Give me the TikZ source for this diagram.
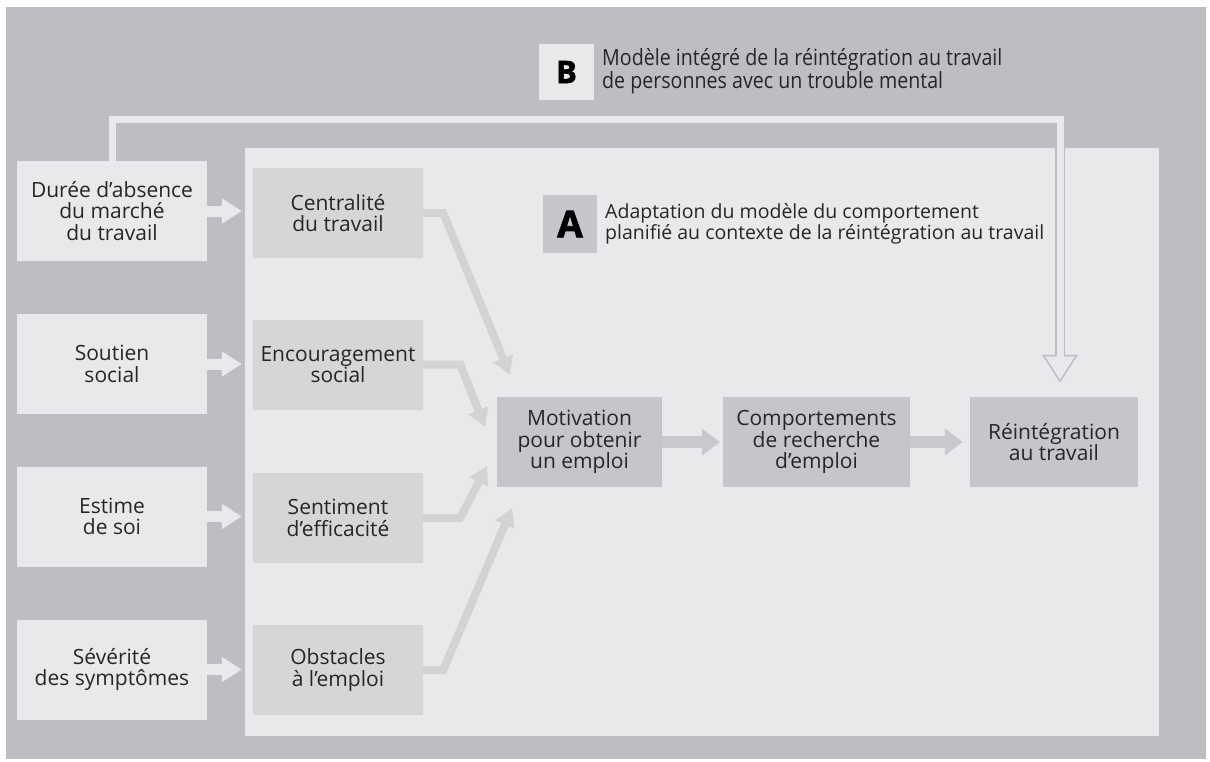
\documentclass[tikz,border=0pt]{standalone}
\usepackage{fontspec}
\setmainfont{Open Sans}
\newfontfamily\narrowfont[FakeStretch=0.88]{Open Sans}
\newfontfamily\tagfont[BoldFeatures={FakeBold=2}]{Open Sans}
\usepackage{tikz}
\usetikzlibrary{arrows.meta,positioning}
\definecolor{outergray}{HTML}{BEBDC2}
\definecolor{panellight}{HTML}{E9E9EB}
\definecolor{midgray}{HTML}{D6D6D9}
\definecolor{chaingray}{HTML}{C6C6CA}
\definecolor{arrowgray}{HTML}{D3D3D6}
\definecolor{chainarrow}{HTML}{C9C9CD}
\definecolor{inktext}{HTML}{262628}

\begin{document}
\begin{tikzpicture}
		[x=1pt, y=-1pt, inner sep=0pt, text=inktext,
		boxfont/.style	= {font=\fontsize{21}{21.7}\selectfont},
		exog/.style	= {rectangle, fill=panellight, minimum width=190pt, minimum height=100pt, align=center, boxfont},
		belief/.style	= {rectangle, fill=midgray, minimum width=170pt, minimum height=90pt, align=center, boxfont},
		stage/.style	= {rectangle, fill=chaingray, minimum height=90pt, align=center, boxfont},
		tag/.style	= {rectangle, minimum width=54pt, minimum height=58pt, text=black},
		caption/.style	= {anchor=west, align=left},
		feed/.style	= {-{Triangle[width=24pt,length=20pt]}, line width=11pt, draw=panellight, shorten >=11pt},
		paths/.style	= {-{Triangle[width=20pt,length=18pt]}, line width=8pt, draw=arrowgray},
		chain/.style	= {-{Triangle[width=26pt,length=18pt]}, line width=12pt, draw=chainarrow},
		loopedge/.style	= {-{Triangle[width=34pt,length=28pt]}, line width=10pt, draw=outergray, shorten >=14pt},
		loopfill/.style	= {-{Triangle[width=28pt,length=23.5pt]}, line width=7pt, draw=panellight, shorten >=16.9pt}]
		
		\useasboundingbox (0,0) rectangle (1210,761);
		\fill[outergray] (6,7) rectangle (1206,759);
		\fill[panellight] (245,148) rectangle (1159,736);
		
		\node at (112,211)	[exog]	(dur)	{Durée d’absence\\du marché\\du travail};
		\node at (112,364)	[exog]	(sou)	{Soutien\\social};
		\node at (112,516.5)	[exog]	(est)	{Estime\\de soi};
		\node at (112,669.5)	[exog]	(sev)	{Sévérité\\des symptômes};
		
		\node at (338,213)	[belief]	(cen)	{Centralité\\du travail};
		\node at (338,364.5)	[belief]	(enc)	{Encouragement\\social};
		\node at (338,518)	[belief]	(sen)	{Sentiment\\d’efficacité};
		\node at (338,670)	[belief]	(obs)	{Obstacles\\à l’emploi};
		
		\node at (579.5,442)	[stage, minimum width=165pt]	(mot)	{Motivation\\pour obtenir\\un emploi};
		\node at (816.5,442)	[stage, minimum width=187pt]	(com)	{Comportements\\de recherche\\d’emploi};
		\node at (1054,442)	[stage, minimum width=168pt]	(rei)	{Réintégration\\au travail};
		
		\node at (570,224)	[tag, fill=chaingray, font=\tagfont\fontsize{37}{37}\selectfont\bfseries]	(taga)	{A};
		\node at (566.5,72)	[tag, fill=panellight, minimum width=55pt, minimum height=56pt, font=\tagfont\fontsize{31}{31}\selectfont\bfseries]	(tagb)	{B};
		\node at (605,224)	[caption, font=\fontsize{19.5}{21}\selectfont]	(capa)	{Adaptation du modèle du comportement\\planifié au contexte de la réintégration au travail};
		\node at (602,71)	[caption, font=\narrowfont\fontsize{22.3}{20}\selectfont]	(capb)	{Modèle intégré de la réintégration au travail\\de personnes avec un trouble mental};
		
		\coordinate (tipc) at (510,375);
		\coordinate (tipe) at (485,427);
		\coordinate (tips) at (487,466);
		\coordinate (tipo) at (512,508);
		\coordinate (fbtop) at (1060,119);
		
		\draw [feed] (dur.east) -- (dur.east -| cen.west);
		\draw [feed] (sou.east) -- (sou.east -| enc.west);
		\draw [feed] (est.east) -- (est.east -| sen.west);
		\draw [feed] (sev.east) -- (sev.east -| obs.west);
		
		\draw [paths] (cen.east) -- ++(20,0) -- (tipc);
		\draw [paths] (enc.east) -- ++(37,0) -- (tipe);
		\draw [paths] (sen.east) -- ++(37,0) -- (tips);
		\draw [paths] (obs.east) -- ++(20,0) -- (tipo);
		
		\draw [chain, shorten >=3pt] (mot.east) -- (com.west);
		\draw [chain, shorten >=7pt] (com.east) -- (rei.west);
		
		% model B feedback
		\draw [loopedge] (dur.north) |- (fbtop) -- (rei.north -| fbtop);
		\draw [loopfill] (dur.north) |- (fbtop) -- (rei.north -| fbtop);
		
		\end{tikzpicture}
\end{document}
